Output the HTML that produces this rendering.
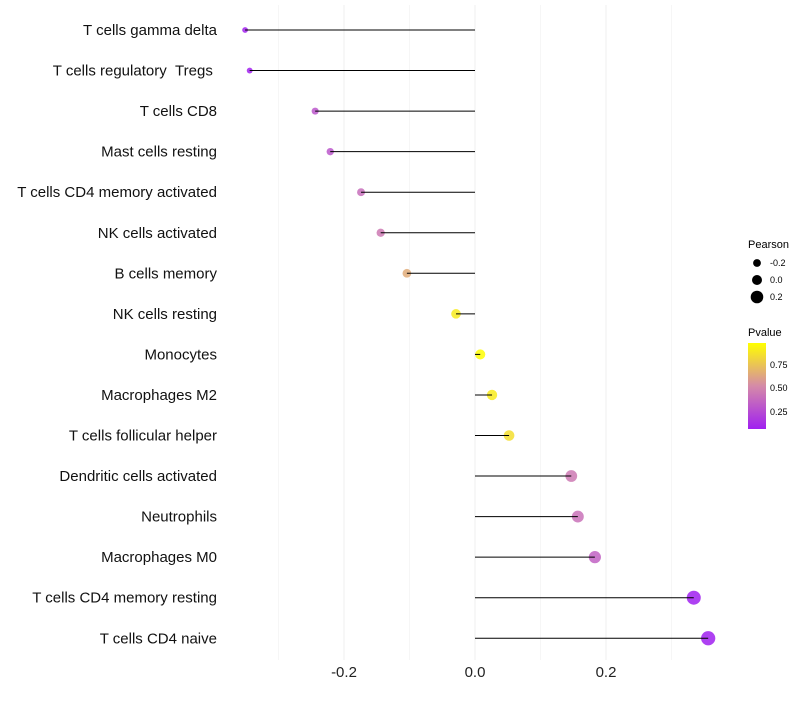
<!DOCTYPE html>
<html><head><meta charset="utf-8"><style>
body{margin:0;background:#fff;font-family:"Liberation Sans",sans-serif}
svg text{font-family:"Liberation Sans",sans-serif}
</style></head><body>
<svg id="c" width="800" height="700">
<defs><linearGradient id="pg" x1="0" y1="1" x2="0" y2="0">
<stop offset="0" stop-color="#a020f0"/><stop offset="0.5" stop-color="#d58aa8"/><stop offset="1" stop-color="#ffff00"/></linearGradient></defs>
<g id="grid"></g><g id="marks"></g><g id="stems"></g><g id="labels"></g>
<g>
<text x="748" y="248" font-size="11">Pearson</text>
<circle cx="757" cy="263" r="3.9" fill="#000"/>
<circle cx="757" cy="280" r="5" fill="#000"/>
<circle cx="757" cy="297" r="6.3" fill="#000"/>
<text x="770" y="266" font-size="9">-0.2</text>
<text x="770" y="283" font-size="9">0.0</text>
<text x="770" y="300" font-size="9">0.2</text>
<text x="748" y="336" font-size="11">Pvalue</text>
<rect x="748" y="343" width="18" height="86" fill="url(#pg)"/>
<text x="770" y="368" font-size="9">0.75</text>
<text x="770" y="391" font-size="9">0.50</text>
<text x="770" y="415" font-size="9">0.25</text>
</g>
</svg>
<script>
const categories=["T cells gamma delta","T cells regulatory\u00a0\u00a0Tregs\u00a0","T cells CD8","Mast cells resting","T cells CD4 memory activated","NK cells activated","B cells memory","NK cells resting","Monocytes","Macrophages M2","T cells follicular helper","Dendritic cells activated","Neutrophils","Macrophages M0","T cells CD4 memory resting","T cells CD4 naive"];
const pearson=[-0.351,-0.344,-0.244,-0.221,-0.174,-0.144,-0.104,-0.029,0.008,0.026,0.052,0.147,0.157,0.183,0.334,0.356];
const pvalues=[0.08,0.07,0.3,0.3,0.4,0.45,0.65,0.9,0.97,0.9,0.85,0.45,0.42,0.35,0.06,0.05];
const xTicks=[-0.2,0.0,0.2];
const xTickLabels=["-0.2","0.0","0.2"];
const xGrid=[-0.3,-0.2,-0.1,0,0.1,0.2,0.3];
const NS="http://www.w3.org/2000/svg";
const x=v=>475+v*655;
const y=i=>30+i*40.55;
const pMin=0.065,pMax=0.978;
function col(p){let t=Math.max(0,Math.min(1,(p-pMin)/(pMax-pMin)));
 const a=[160,32,240],m=[213,138,168],b=[255,255,0];let s,e,u;
 if(t<0.5){s=a;e=m;u=t*2}else{s=m;e=b;u=(t-0.5)*2}
 return "rgb("+s.map((c,k)=>Math.round(c+(e[k]-c)*u)).join(",")+")";}
function mk(tag,at,parent){const el=document.createElementNS(NS,tag);for(const k in at)el.setAttribute(k,at[k]);document.getElementById(parent).appendChild(el);return el;}
xGrid.forEach(g=>{const l=mk("line",{x1:x(g),x2:x(g),y1:5,y2:660,stroke:"#f0f0f0","stroke-width":Math.abs(Math.round(g*10))%2===0?1.1:0.6},"grid");

});
xTicks.forEach((t,i)=>{const tx=mk("text",{x:x(t),y:677,"font-size":15,"text-anchor":"middle",fill:"#222"},"labels");tx.textContent=xTickLabels[i];

});
categories.forEach((c,i)=>{
 const tx=mk("text",{x:217,y:y(i)+5,"font-size":15,"text-anchor":"end",fill:"#111"},"labels");tx.textContent=c;
 
 
 const r=Math.max(1.5,5+6*pearson[i]);
 const ci=mk("circle",{cx:x(pearson[i]),cy:y(i),r:r,fill:col(pvalues[i]),"fill-opacity":0.85},"marks");
 
 
 const ln=mk("line",{x1:x(0),x2:x(pearson[i]),y1:y(i),y2:y(i),stroke:"#000","stroke-width":1},"stems");
 
 
});
</script>
</body></html>
